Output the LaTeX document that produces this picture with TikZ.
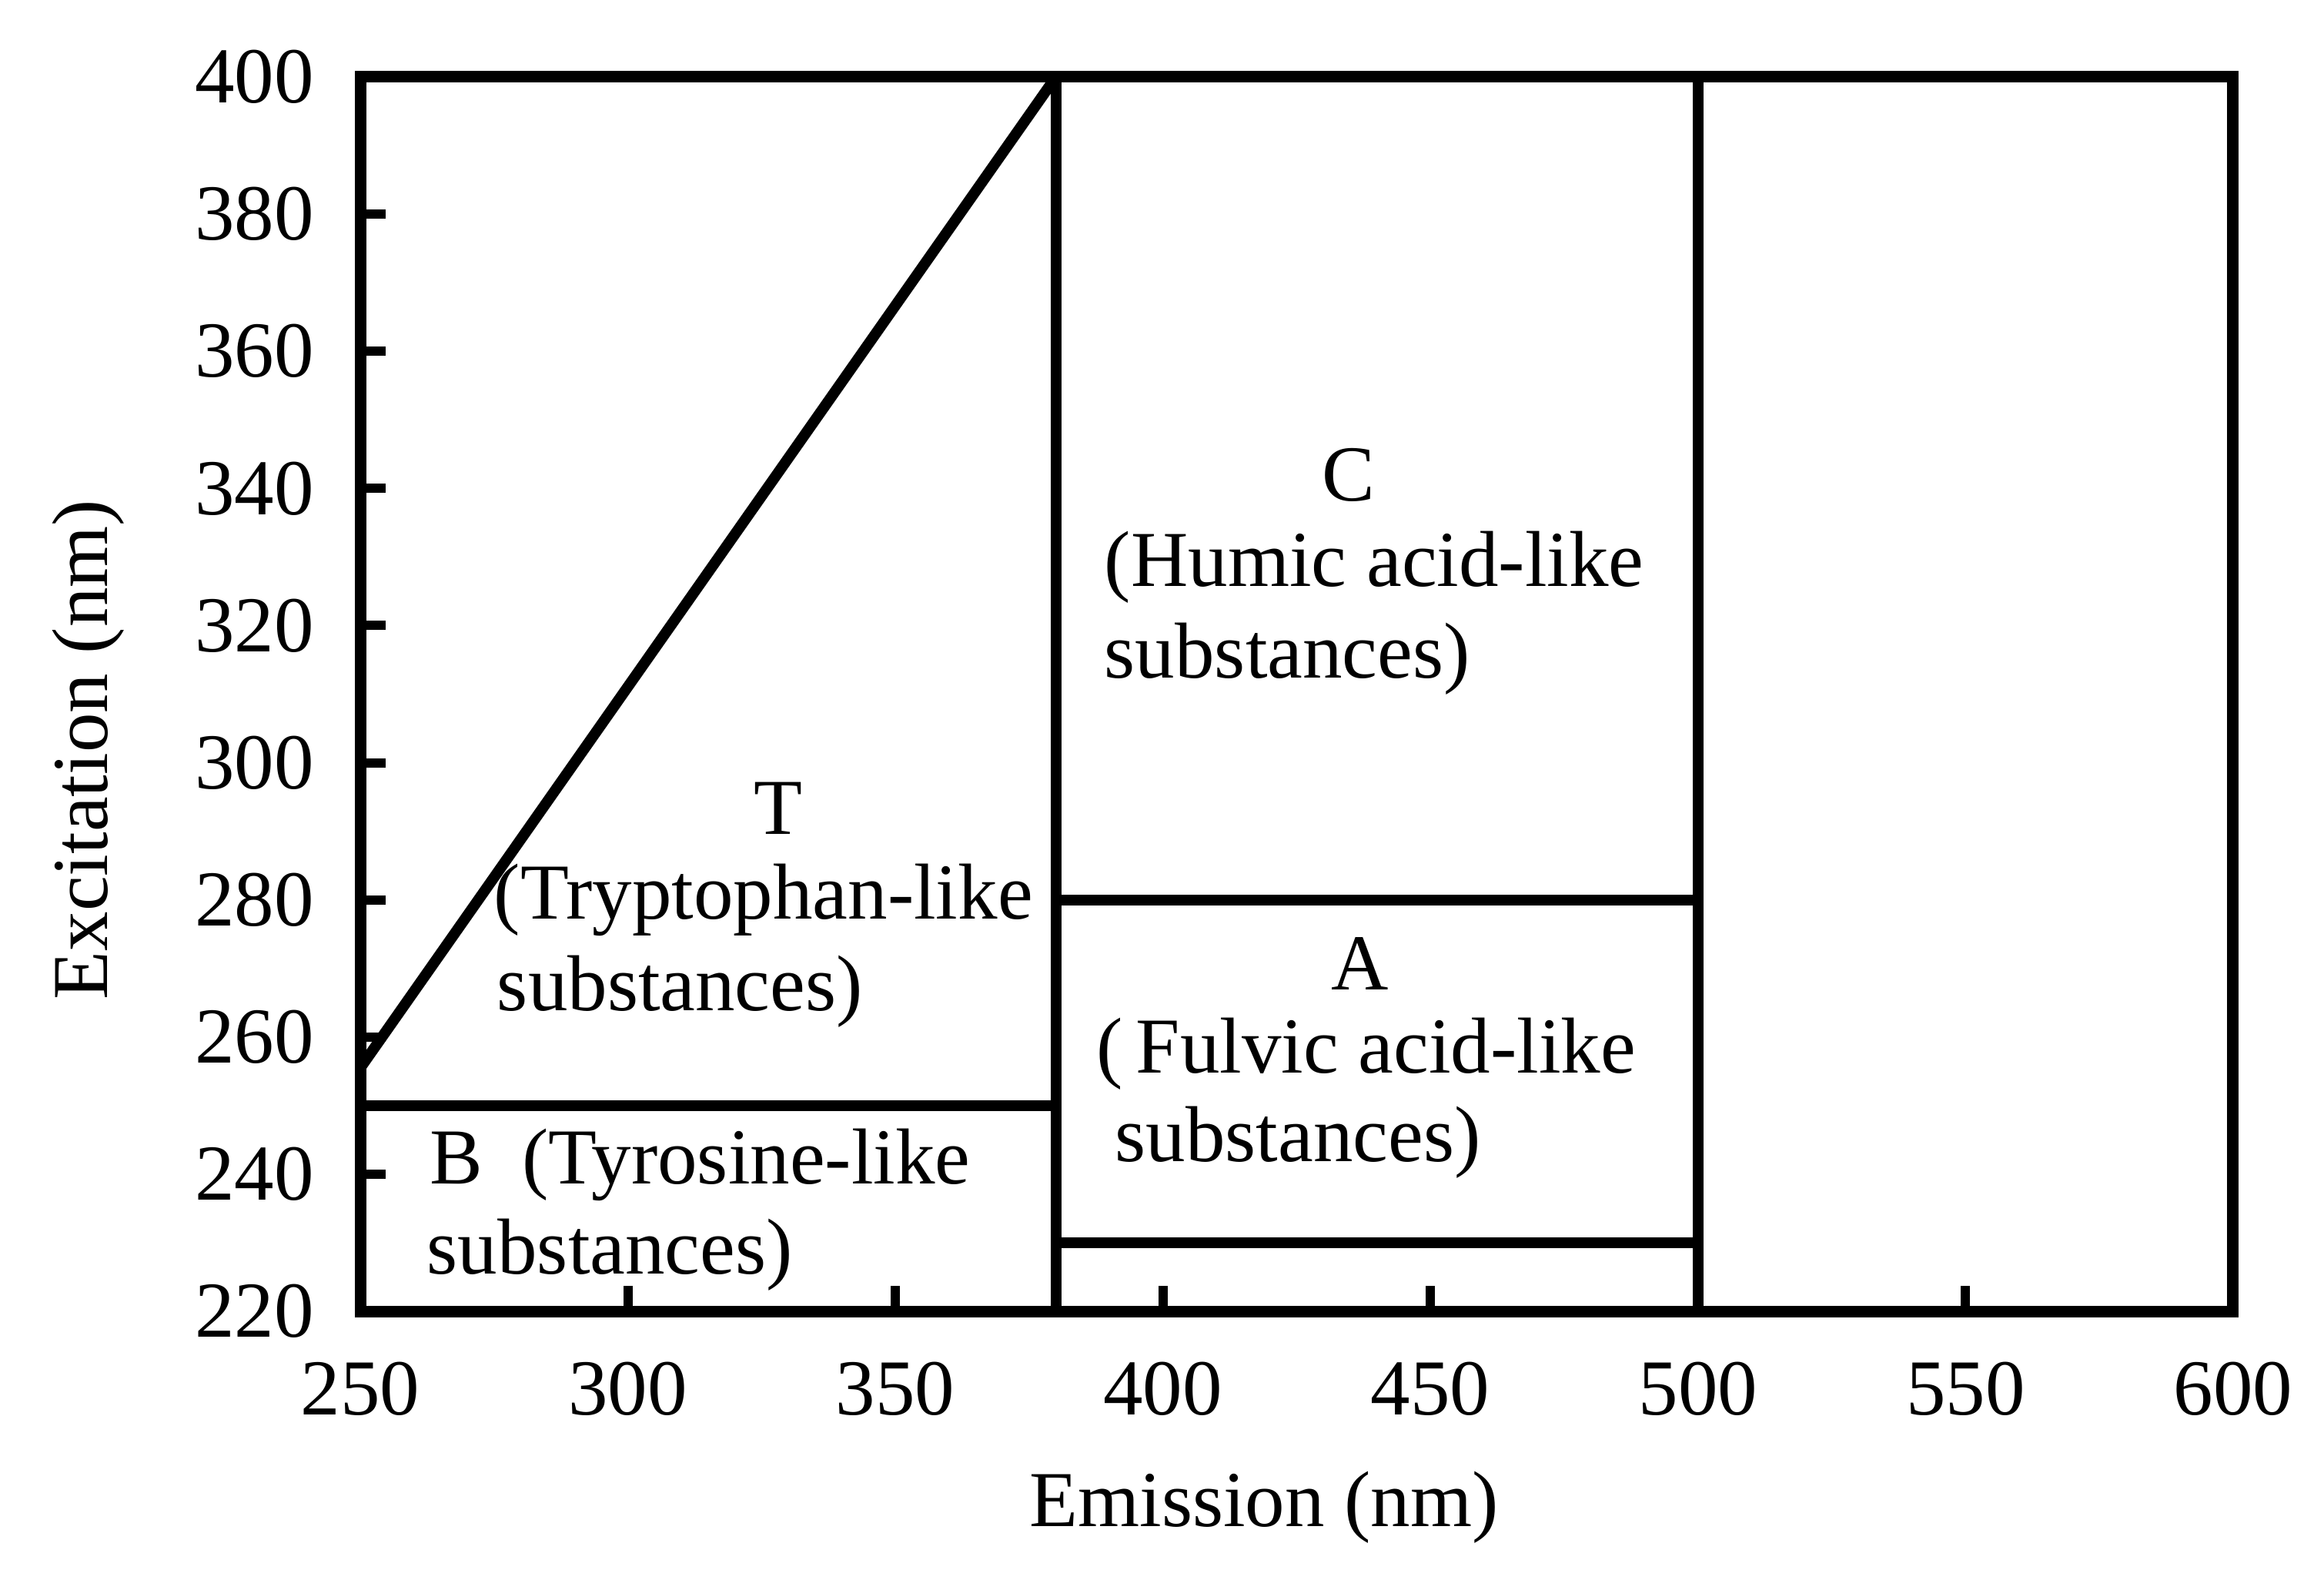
\documentclass[tikz,border=0pt]{standalone}
\usepackage{fontspec}
\setmainfont{Liberation Serif}
\begin{document}
\begin{tikzpicture}[x=0.06951cm,y=0.08906cm,
  framest/.style={line width=0.15cm, line join=miter},
  innerln/.style={line width=0.14cm},
  tickln/.style={line width=0.12cm},
  lbl/.style={font=\fontsize{29.3}{34}\selectfont, inner sep=0pt, text=black},
  ]
\useasboundingbox (182.67,180.93) rectangle (617.0,411.22);
% frame
\draw[framest] (250,220) rectangle (600,400);
% region boundaries
\draw[innerln] (380,220) -- (380,400);
\draw[innerln] (500,220) -- (500,400);
\draw[innerln] (250,250) -- (380,250);
\draw[innerln] (380,280) -- (500,280);
\draw[innerln] (380,230) -- (500,230);
\draw[innerln] (250,255.5) -- (380,400);
% ticks
\foreach \v in {240,260,...,380} \draw[tickln] (250,\v) -- ++(4.75,0);
\foreach \v in {300,350,400,450,550} \draw[tickln] (\v,220) -- ++(0,3.7);
% tick labels
\foreach \v in {220,240,...,400} \node[lbl, anchor=east] (yl\v) at (241.4,\v) {\v};
\foreach \v in {250,300,...,600} \node[lbl] (xl\v) at (\v,208.7) {\v};
% axis titles
\node[lbl] (xtitle) at (418.9,191.4) {Emission (nm)};
\node[lbl, rotate=90] (ytitle) at (199.2,301.9) {Excitation (nm)};
% region labels
\node[lbl] (Cname) at (434.7,342.0) {C};
\node[lbl, anchor=west] (C1) at (389.0,328.5) {(Humic acid-like};
\node[lbl, anchor=west] (C2) at (389.0,315.2) {substances)};
\node[lbl] (Tname) at (328.1,293.4) {T};
\node[lbl, anchor=west] (T1) at (274.9,280.0) {(Tryptophan-like};
\node[lbl, anchor=west] (T2) at (275.5,266.6) {substances)};
\node[lbl] (Aname) at (436.9,270.75) {A};
\node[lbl, anchor=west] (A1) at (387.5,257.5) {(\,Fulvic acid-like};
\node[lbl, anchor=west] (A2) at (391.0,244.6) {substances)};
\node[lbl, anchor=west] (B1) at (262.9,241.4) {B\hspace{0.5em}(Tyrosine-like};
\node[lbl, anchor=west] (B2) at (262.4,228.3) {substances)};
\end{tikzpicture}
\end{document}
